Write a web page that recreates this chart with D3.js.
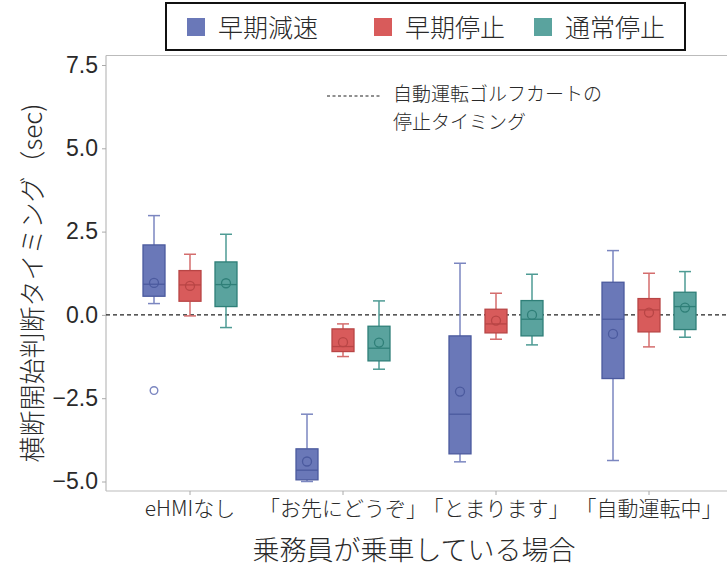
<!DOCTYPE html>
<html>
<head>
<meta charset="utf-8">
<script src="https://cdn.jsdelivr.net/npm/d3@7"></script>
<style>
  body { margin: 0; background: #fff; }
  svg text { font-family: "Liberation Sans", "Noto Sans CJK JP", sans-serif; fill: #2a2a2a; }
  .jp { font-family: "Noto Sans CJK JP", sans-serif; font-weight: 300; }
  .num { font-family: "Liberation Sans Narrow", "Liberation Sans", sans-serif; }
</style>
</head>
<body>
<div id="chart"></div>
<script>
// categories and series
var categories = ["eHMIなし", "「お先にどうぞ」", "「とまります」", "「自動運転中」"];
var seriesNames = ["早期減速", "早期停止", "通常停止"];
var yTicks = [-5.0, -2.5, 0.0, 2.5, 5.0, 7.5];

// [whisker low, q1, median, q3, whisker high] per category
var decelStats = [[0.34, 0.56, 0.92, 2.10, 2.98], [-5.0, -4.95, -4.66, -4.02, -2.98], [-4.41, -4.17, -2.98, -0.63, 1.55], [-4.37, -1.91, -0.13, 0.98, 1.93]];
var earlyStopStats = [[-0.03, 0.41, 0.90, 1.33, 1.82], [-1.25, -1.10, -0.95, -0.42, -0.27], [-0.73, -0.54, -0.27, 0.17, 0.65], [-0.96, -0.51, 0.15, 0.49, 1.25]];
var normalStopStats = [[-0.38, 0.25, 0.91, 1.59, 2.42], [-1.63, -1.38, -1.0, -0.34, 0.42], [-0.90, -0.63, -0.13, 0.43, 1.22], [-0.67, -0.44, 0.25, 0.68, 1.30]];

var decelMeans = [0.96, -4.40, -2.30, -0.57];
var earlyStopMeans = [0.87, -0.82, -0.17, 0.07];
var normalStopMeans = [0.95, -0.83, 0.0, 0.22];

// outliers: [category index, value]
var decelOutliers = [[0, -2.27]];

var annotationLines = ["自動運転ゴルフカートの", "停止タイミング"];

var fills = ["#6a78b8", "#d85b5b", "#5aa39e"];
var strokes = ["#4b5a9e", "#b84545", "#2f7f78"];
var whiskerColors = ["#7b86c0", "#d46d6d", "#4e9b94"];

var width = 727, height = 567;
var svg = d3.select("#chart").append("svg").attr("width", width).attr("height", height);

var x = d3.scaleBand().domain(categories).range([113.5, 725.5]);
var xs = d3.scalePoint().domain(seriesNames).range([-36, 36]);
var y = d3.scaleLinear().domain([-5, 7.5]).range([481.5, 65]);

var plotLeft = 106, plotTop = 55.5, plotBottom = 491;

// frame
svg.append("line").attr("x1", plotLeft).attr("x2", width).attr("y1", plotTop).attr("y2", plotTop)
  .attr("stroke", "#bbb").attr("stroke-width", 1.2);
svg.append("line").attr("x1", plotLeft).attr("x2", plotLeft).attr("y1", plotTop).attr("y2", plotBottom)
  .attr("stroke", "#bbb").attr("stroke-width", 1.2);
svg.append("line").attr("x1", plotLeft).attr("x2", width).attr("y1", plotBottom).attr("y2", plotBottom)
  .attr("stroke", "#bbb").attr("stroke-width", 1.2);

// y axis
var yAxis = svg.append("g").attr("transform", "translate(" + plotLeft + ",0)")
  .call(d3.axisLeft(y).tickValues(yTicks).tickFormat(d3.format(".1f")).tickSize(4).tickPadding(4));
yAxis.select(".domain").remove();
yAxis.selectAll(".tick line").attr("stroke", "#aaa");
yAxis.selectAll(".tick text").attr("class", "num").style("font-size", "23px").attr("fill", "#2a2a2a");

// x axis
var xAxis = svg.append("g").attr("transform", "translate(0," + plotBottom + ")")
  .call(d3.axisBottom(x).tickSize(4).tickPadding(6));
xAxis.select(".domain").remove();
xAxis.selectAll(".tick line").attr("stroke", "#aaa");
xAxis.selectAll(".tick text").attr("class", "jp").style("font-size", "21px").attr("fill", "#2a2a2a");

// axis titles
svg.append("text").attr("class", "jp")
  .attr("transform", "translate(33," + 283 + ") rotate(-90)")
  .attr("text-anchor", "middle").attr("dy", "0.35em").style("font-size", "26px")
  .text("横断開始判断タイミング（sec)");
svg.append("text").attr("class", "jp")
  .attr("x", 414).attr("y", 560).attr("text-anchor", "middle").style("font-size", "27px")
  .text("乗務員が乗車している場合");

// reference line at stop timing
svg.append("line").attr("x1", plotLeft).attr("x2", width).attr("y1", y(0)).attr("y2", y(0))
  .attr("stroke", "#222").attr("stroke-width", 1.3).attr("stroke-dasharray", "4,3");

// annotation
svg.append("line").attr("x1", 327).attr("x2", 381).attr("y1", 96).attr("y2", 96)
  .attr("stroke", "#222").attr("stroke-width", 1.1).attr("stroke-dasharray", "3,2.5");
var note = svg.append("text").attr("class", "jp").attr("y", 101).style("font-size", "19px");
note.selectAll("tspan").data(annotationLines).enter().append("tspan")
  .attr("x", 393).attr("dy", function(d, i) { return i === 0 ? 0 : 28; })
  .text(function(d) { return d; });

// boxes
var allStats = [decelStats, earlyStopStats, normalStopStats];
var allMeans = [decelMeans, earlyStopMeans, normalStopMeans];
var boxW = 22, capW = 12;

seriesNames.forEach(function(s, si) {
  var g = svg.append("g");
  categories.forEach(function(c, ci) {
    var st = allStats[si][ci];
    var cx = x(c) + x.bandwidth() / 2 + xs(s);
    // whiskers
    g.append("line").attr("x1", cx).attr("x2", cx).attr("y1", y(st[4])).attr("y2", y(st[3]))
      .attr("stroke", whiskerColors[si]).attr("stroke-width", 1.5);
    g.append("line").attr("x1", cx).attr("x2", cx).attr("y1", y(st[1])).attr("y2", y(st[0]))
      .attr("stroke", whiskerColors[si]).attr("stroke-width", 1.5);
    g.append("line").attr("x1", cx - capW / 2).attr("x2", cx + capW / 2).attr("y1", y(st[4])).attr("y2", y(st[4]))
      .attr("stroke", whiskerColors[si]).attr("stroke-width", 1.5);
    g.append("line").attr("x1", cx - capW / 2).attr("x2", cx + capW / 2).attr("y1", y(st[0])).attr("y2", y(st[0]))
      .attr("stroke", whiskerColors[si]).attr("stroke-width", 1.5);
    // box
    g.append("rect").attr("x", cx - boxW / 2).attr("y", y(st[3]))
      .attr("width", boxW).attr("height", y(st[1]) - y(st[3]))
      .attr("fill", fills[si]).attr("stroke", strokes[si]).attr("stroke-width", 1.3);
    // median
    g.append("line").attr("x1", cx - boxW / 2).attr("x2", cx + boxW / 2).attr("y1", y(st[2])).attr("y2", y(st[2]))
      .attr("stroke", strokes[si]).attr("stroke-width", 1.3);
    // mean
    g.append("circle").attr("cx", cx).attr("cy", y(allMeans[si][ci])).attr("r", 4.5)
      .attr("fill", "none").attr("stroke", strokes[si]).attr("stroke-width", 1.3);
  });
});

decelOutliers.forEach(function(o) {
  var cx = x(categories[o[0]]) + x.bandwidth() / 2 + xs(seriesNames[0]);
  svg.append("circle").attr("cx", cx).attr("cy", y(o[1])).attr("r", 3.8)
    .attr("fill", "#fff").attr("stroke", whiskerColors[0]).attr("stroke-width", 1.4);
});

// legend
var legend = svg.append("g");
legend.append("rect").attr("x", 166).attr("y", 3).attr("width", 519).attr("height", 47)
  .attr("fill", "#fff").attr("stroke", "#111").attr("stroke-width", 2);
var legendX = [187, 374, 534];
seriesNames.forEach(function(s, i) {
  legend.append("rect").attr("x", legendX[i]).attr("y", 18).attr("width", 18).attr("height", 18)
    .attr("fill", fills[i]);
  legend.append("text").attr("class", "jp").attr("x", legendX[i] + 31).attr("y", 36.5)
    .style("font-size", "25px").text(s);
});
</script>
</body>
</html>
